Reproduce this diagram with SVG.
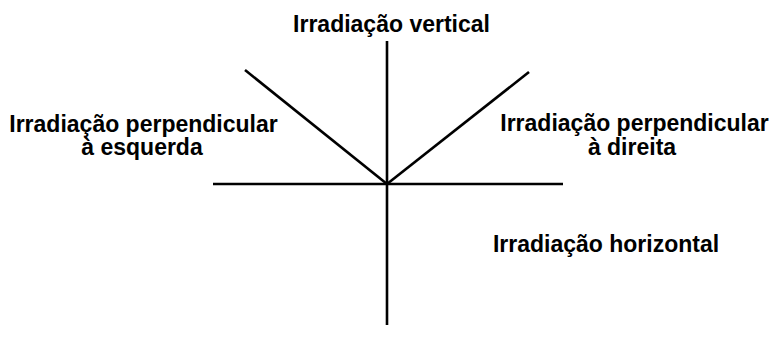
<svg xmlns="http://www.w3.org/2000/svg" width="772" height="350" viewBox="0 0 772 350">
<style>
.t{font-family:"Liberation Sans",Arial,Helvetica,sans-serif;font-size:23px;font-weight:bold;fill:#000;text-anchor:middle}
.l{stroke:#000;stroke-width:2.6;fill:none;stroke-linecap:butt}
</style>
<rect width="772" height="350" fill="#fff"/>
<g id="connectors">
<line class="l" x1="387" y1="41" x2="387" y2="325"/>
<line class="l" x1="213" y1="184" x2="563" y2="184"/>
<line class="l" x1="245" y1="70" x2="387" y2="184"/>
<line class="l" x1="529" y1="72" x2="387" y2="184"/>
</g>
<g id="vertical"><text class="t" x="391.5" y="32">Irradiação vertical</text></g>
<g id="esquerda"><text class="t" x="143.5" y="131.5">Irradiação perpendicular</text><text class="t" x="142" y="155">à esquerda</text></g>
<g id="direita"><text class="t" x="634.5" y="131">Irradiação perpendicular</text><text class="t" x="632" y="155">à direita</text></g>
<g id="horizontal"><text class="t" x="606" y="251.5">Irradiação horizontal</text></g>
</svg>
